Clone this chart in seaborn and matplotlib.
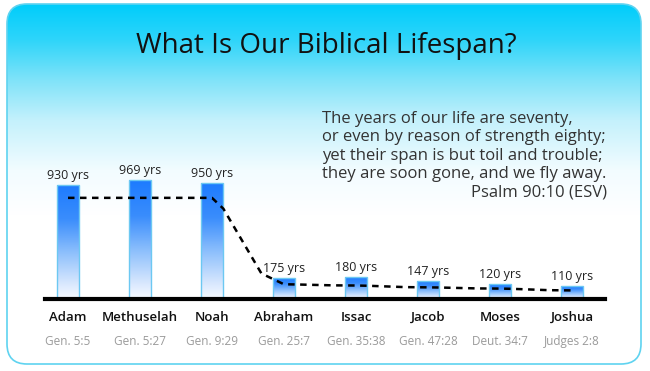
import numpy as np
import pandas as pd
import matplotlib
matplotlib.use("Agg")
import matplotlib.pyplot as plt
import seaborn as sns
from matplotlib.patches import FancyBboxPatch
from matplotlib.path import Path
from matplotlib.colors import LinearSegmentedColormap

# ---------------- data ----------------
names = ["Adam", "Methuselah", "Noah", "Abraham", "Issac", "Jacob", "Moses", "Joshua"]
lifespans = [930, 969, 950, 175, 180, 147, 120, 110]
references = ["Gen. 5:5", "Gen. 5:27", "Gen. 9:29", "Gen. 25:7", "Gen. 35:38",
              "Gen. 47:28", "Deut. 34:7", "Judges 2:8"]
trend = [825, 825, 825, 120, 110, 95, 85, 70]
title = "What Is Our Biblical Lifespan?"
quote_lines = ["The years of our life are seventy,",
               "or even by reason of strength eighty;",
               "yet their span is but toil and trouble;",
               "they are soon gone, and we fly away."]
quote_source = "Psalm 90:10 (ESV)"

df = pd.DataFrame({"name": names, "years": lifespans})

# ---------------- style ----------------
sns.set_style("white")
plt.rcParams["font.family"] = ["Open Sans", "DejaVu Sans"]

W, H = 650, 371
fig = plt.figure(figsize=(6.5, 3.71), dpi=100)
fig.patch.set_facecolor("white")

# background card
bg = fig.add_axes([0, 0, 1, 1])
bg.axis("off")

stops_y = [4, 40, 80, 120, 170, 215, 371]
stops_c = np.array([[0x00, 0xcd, 0xfb], [0x2f, 0xd5, 0xfa], [0x80, 0xe3, 0xf9],
                    [0xc4, 0xf1, 0xfc], [0xf2, 0xfc, 0xff], [0xff, 0xff, 0xff],
                    [0xff, 0xff, 0xff]]) / 255.0
rows = np.arange(4, 365)
grad = np.stack([np.interp(rows, stops_y, stops_c[:, k]) for k in range(3)], axis=-1)
grad = grad[:, None, :]
gim = bg.imshow(grad, extent=[7, 641, 364, 4], aspect="auto", zorder=1,
                interpolation="bilinear")
bg.set_xlim(0, W)
bg.set_ylim(H, 0)
clip_card = FancyBboxPatch((7, 4), 634, 360, boxstyle="round,pad=0,rounding_size=20",
                           fc="none", ec="none")
bg.add_patch(clip_card)
gim.set_clip_path(clip_card)
card = FancyBboxPatch((7, 4), 634, 360, boxstyle="round,pad=0,rounding_size=20",
                      fc="none", ec="#5fd3f0", lw=1.2, zorder=3)
bg.add_patch(card)

bg.text(326, 53, title, ha="center", va="baseline", fontsize=20, color="#111111", zorder=5)
for i, line in enumerate(quote_lines):
    bg.text(322, 123 + i * 18.4, line, ha="left", va="baseline", fontsize=12,
            fontweight="medium", color="#333333", zorder=5)
bg.text(607, 123 + 4 * 18.4, quote_source, ha="right", va="baseline", fontsize=12,
        fontweight="medium", color="#333333", zorder=5)

# main chart axes
px_per_year = 0.1226
ax_left, ax_right, ax_base, ax_top = 45, 605, 299, 150
ax = fig.add_axes([ax_left / W, (H - ax_base) / H, (ax_right - ax_left) / W,
                   (ax_base - ax_top) / H])
ax.patch.set_alpha(0)

sns.barplot(data=df, x="name", y="years", ax=ax, width=0.305, color="#2a86fb",
            edgecolor="#6cc8f2", linewidth=1.0, zorder=2)

bar_cmap = LinearSegmentedColormap.from_list(
    "bar", [(0.0, "#f7faff"), (0.12, "#dbe9fe"), (0.4, "#8ec0fc"),
            (0.7, "#3a8dfc"), (1.0, "#1d7bff")])
gcol = np.linspace(0, 1, 128)[:, None]
for patch in list(ax.patches):
    x0, y0 = patch.get_x(), patch.get_y()
    w, h = patch.get_width(), patch.get_height()
    patch.set_facecolor("none")
    patch.set_zorder(3)
    im = ax.imshow(gcol, extent=[x0, x0 + w, y0, y0 + h], aspect="auto",
                   cmap=bar_cmap, origin="lower", zorder=2, interpolation="bilinear")
    im.set_clip_path(patch)

# smoothed dashed trend line (cubic segments with horizontal tangents)
xs = np.arange(len(names))
verts = [(xs[0], trend[0])]
codes = [Path.MOVETO]
for i in range(len(xs) - 1):
    verts += [(xs[i] + 0.17, trend[i]), (xs[i + 1] - 0.42, trend[i + 1]),
              (xs[i + 1], trend[i + 1])]
    codes += [Path.CURVE4] * 3
poly = Path(verts, codes).to_polygons(closed_only=False)[0]
ax.plot(poly[:, 0], poly[:, 1], color="black", lw=1.8, dashes=(2.6, 2.2), zorder=4)

ax.set_xlim(-23 / 72, -23 / 72 + (ax_right - ax_left) / 72)
ax.set_ylim(0, (ax_base - ax_top) / px_per_year)

for s in ["top", "left", "right"]:
    ax.spines[s].set_visible(False)
ax.spines["bottom"].set_color("black")
ax.spines["bottom"].set_linewidth(3)
ax.spines["bottom"].set_zorder(5)
ax.set_yticks([])
ax.set_xlabel("")
ax.set_ylabel("")
ax.set_xticks(xs)
ax.set_xticklabels([""] * len(names))
ax.tick_params(axis="x", length=0)

for i, (v, nm, ref) in enumerate(zip(lifespans, names, references)):
    ax.annotate(f"{v} yrs", xy=(i, v), xytext=(0, 6), textcoords="offset pixels",
                ha="center", va="baseline", fontsize=9, color="#222222")
    ax.annotate(nm, xy=(i, 0), xycoords=("data", "axes fraction"), xytext=(0, -22),
                textcoords="offset pixels", ha="center", va="baseline", fontsize=9.5,
                fontweight="semibold", color="#111111")
    ax.annotate(ref, xy=(i, 0), xycoords=("data", "axes fraction"), xytext=(0, -46),
                textcoords="offset pixels", ha="center", va="baseline", fontsize=8.5,
                color="#9a9a9a")

fig.savefig("out.png", dpi=100)
